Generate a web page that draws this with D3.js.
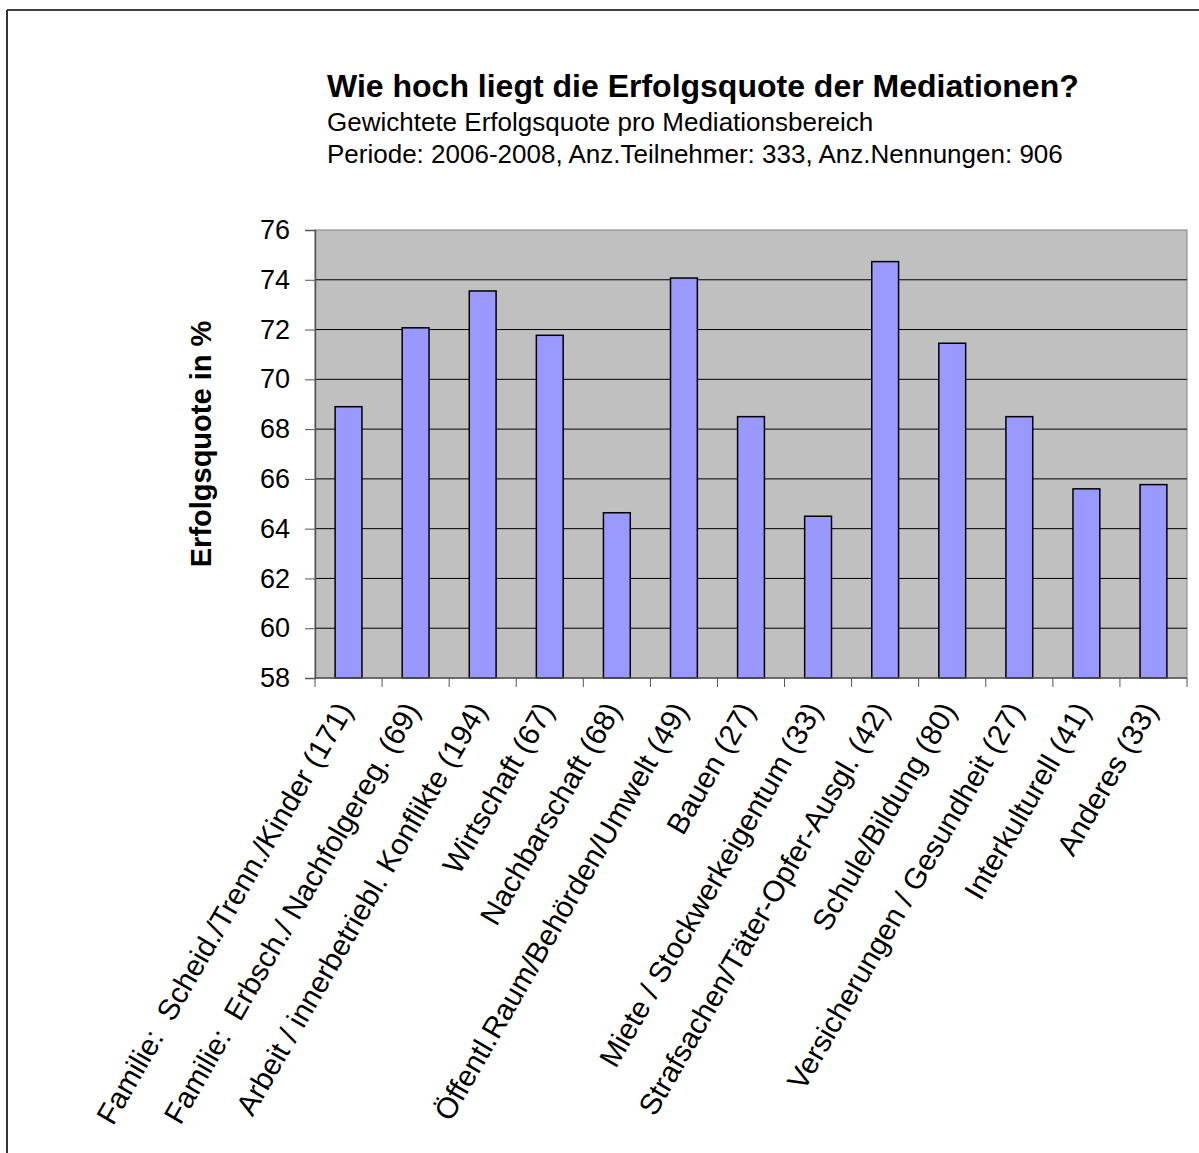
<!DOCTYPE html>
<html>
<head>
<meta charset="utf-8">
<script src="https://cdn.jsdelivr.net/npm/d3@7"></script>
<style>
  html, body { margin: 0; padding: 0; background: #ffffff; }
  svg { display: block; font-family: "Liberation Sans", Arial, sans-serif; }
</style>
</head>
<body>
<div id="chart"></div>
<script>
// Chart data
const categories = [
    'Familie:  Scheid./Trenn./Kinder (171)',
    'Familie:  Erbsch./ Nachfolgereg. (69)',
    'Arbeit / innerbetriebl. Konflikte (194)',
    'Wirtschaft (67)',
    'Nachbarschaft (68)',
    'Öffentl.Raum/Behörden/Umwelt (49)',
    'Bauen (27)',
    'Miete / Stockwerkeigentum (33)',
    'Strafsachen/Täter-Opfer-Ausgl. (42)',
    'Schule/Bildung (80)',
    'Versicherungen / Gesundheit (27)',
    'Interkulturell (41)',
    'Anderes (33)'
];
const values = [68.9, 72.07, 73.55, 71.77, 64.64, 74.07, 68.5, 64.5, 74.73, 71.45, 68.5, 65.6, 65.77];
const yTicks = [58, 60, 62, 64, 66, 68, 70, 72, 74, 76];

const title = 'Wie hoch liegt die Erfolgsquote der Mediationen?';
const subtitle1 = 'Gewichtete Erfolgsquote pro Mediationsbereich';
const subtitle2 = 'Periode: 2006-2008, Anz.Teilnehmer: 333, Anz.Nennungen: 906';
const yLabel = 'Erfolgsquote in %';

const W = 1199, H = 1153;
const plot = { left: 315, top: 230, right: 1187, bottom: 678 };

const colors = {
    plotBg: '#c0c0c0',
    plotBorder: '#808080',
    grid: '#000000',
    bar: '#9999ff',
    barStroke: '#000000',
    axis: '#555555',
    text: '#000000'
};

const svg = d3.select('#chart')
    .append('svg')
    .attr('width', W)
    .attr('height', H);

// Outer frame (only top and left visible)
svg.append('line')
    .attr('x1', 7).attr('y1', 10).attr('x2', W + 5).attr('y2', 10)
    .attr('stroke', '#000').attr('stroke-width', 1.5);
svg.append('line')
    .attr('x1', 7).attr('y1', 10).attr('x2', 7).attr('y2', H + 5)
    .attr('stroke', '#333').attr('stroke-width', 2);

// Scales
const x = d3.scaleBand()
    .domain(categories)
    .range([plot.left, plot.right])
    .paddingInner(0.6)
    .paddingOuter(0.3);

const band = d3.scaleBand()
    .domain(categories)
    .range([plot.left, plot.right]);

const y = d3.scaleLinear()
    .domain([58, 76])
    .range([plot.bottom, plot.top]);

// Plot area background
svg.append('rect')
    .attr('x', plot.left)
    .attr('y', plot.top)
    .attr('width', plot.right - plot.left)
    .attr('height', plot.bottom - plot.top)
    .attr('fill', colors.plotBg)
    .attr('stroke', colors.plotBorder)
    .attr('stroke-width', 1);

// Gridlines
svg.append('g')
    .selectAll('line')
    .data(yTicks.filter(d => d > 58 && d < 76))
    .enter()
    .append('line')
    .attr('x1', plot.left)
    .attr('x2', plot.right)
    .attr('y1', d => y(d))
    .attr('y2', d => y(d))
    .attr('stroke', colors.grid)
    .attr('stroke-width', 1);

// Bars
svg.append('g')
    .selectAll('rect')
    .data(values)
    .enter()
    .append('rect')
    .attr('x', (d, i) => x(categories[i]))
    .attr('y', d => y(d))
    .attr('width', x.bandwidth())
    .attr('height', d => y(58) - y(d))
    .attr('fill', colors.bar)
    .attr('stroke', colors.barStroke)
    .attr('stroke-width', 1.5);

// Y axis
const yAxis = d3.axisLeft(y)
    .tickValues(yTicks)
    .tickSize(10)
    .tickPadding(15)
    .tickFormat(d3.format('d'));

const yAxisG = svg.append('g')
    .attr('transform', `translate(${plot.left},0)`)
    .call(yAxis);
yAxisG.select('.domain').attr('stroke', colors.axis).attr('stroke-width', 1.5);
yAxisG.selectAll('.tick line').attr('stroke', colors.axis);
yAxisG.selectAll('.tick text')
    .attr('fill', colors.text)
    .style('font-size', '27px')
    .style('font-family', '"Liberation Sans", Arial, sans-serif');

// X axis: ticks at category boundaries
const boundaries = categories.map(c => band(c)).concat([plot.right]);
const xAxisG = svg.append('g');
xAxisG.append('line')
    .attr('x1', plot.left).attr('x2', plot.right)
    .attr('y1', plot.bottom).attr('y2', plot.bottom)
    .attr('stroke', colors.axis).attr('stroke-width', 1.5);
xAxisG.selectAll('.xtick')
    .data(boundaries)
    .enter()
    .append('line')
    .attr('class', 'xtick')
    .attr('x1', d => d).attr('x2', d => d)
    .attr('y1', plot.bottom).attr('y2', plot.bottom + 9)
    .attr('stroke', colors.axis);

// Rotated category labels
xAxisG.selectAll('.xlabel')
    .data(categories)
    .enter()
    .append('text')
    .attr('class', 'xlabel')
    .attr('text-anchor', 'end')
    .attr('transform', d => `translate(${band(d) + band.bandwidth() / 2 + 5},${plot.bottom + 32}) rotate(-60)`)
    .attr('fill', colors.text)
    .style('font-size', '29.5px')
    .style('white-space', 'pre')
    .text(d => d);

// Y axis label
svg.append('text')
    .attr('transform', `translate(211,${(plot.top + plot.bottom) / 2 - 10}) rotate(-90)`)
    .attr('text-anchor', 'middle')
    .attr('font-weight', 'bold')
    .attr('fill', colors.text)
    .style('font-size', '29px')
    .text(yLabel);

// Titles
svg.append('text')
    .attr('x', 327).attr('y', 97)
    .attr('font-weight', 'bold')
    .attr('fill', colors.text)
    .style('font-size', '32px')
    .text(title);

svg.append('text')
    .attr('x', 327).attr('y', 131)
    .attr('fill', colors.text)
    .style('font-size', '26px')
    .text(subtitle1);

svg.append('text')
    .attr('x', 327).attr('y', 163)
    .attr('fill', colors.text)
    .style('font-size', '26px')
    .text(subtitle2);
</script>
</body>
</html>
